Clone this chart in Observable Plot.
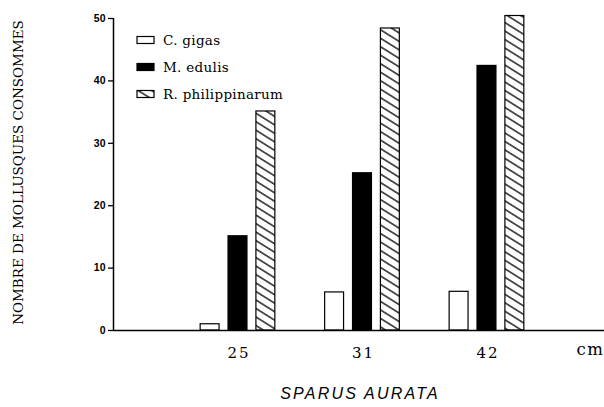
<!DOCTYPE html>
<html>
<head>
<meta charset="utf-8">
<script src="https://cdn.jsdelivr.net/npm/d3@7"></script>
<script src="https://cdn.jsdelivr.net/npm/@observablehq/plot@0.6"></script>
<style>
  body { margin: 0; background: #fff; }
  svg { display: block; }
</style>
</head>
<body>
<div id="chart"></div>
<script>
const sizes = ["25", "31", "42"];
const species = ["C. gigas", "M. edulis", "R. philippinarum"];
const gigas = [1, 6.1, 6.2];
const edulis = [15.1, 25.2, 42.4];
const philippinarum = [35.1, 48.4, 50.4];
const yTicks = [0, 10, 20, 30, 40, 50];
const fills = ["white", "black", "url(#hatch)"];
const yLabel = "NOMBRE DE MOLLUSQUES CONSOMMES";
const xTitle = "SPARUS AURATA";
const unit = "cm";

const series = [gigas, edulis, philippinarum];
const rows = [];
sizes.forEach((s, i) => {
  species.forEach((sp, k) => {
    rows.push({size: s, group: i + 1, k, species: sp, value: series[k][i], fill: fills[k]});
  });
});

const pitch = 0.224, bw = 0.152;

const chart = Plot.plot({
  width: 604,
  height: 407,
  marginLeft: 113,
  marginRight: 0,
  marginTop: 18,
  marginBottom: 77,
  x: {domain: [0, 3.944], axis: null},
  y: {domain: [0, 50], axis: null},
  color: {type: "identity"},
  style: {background: "white", color: "black", overflow: "visible"},
  marks: [
    Plot.rectY(rows, {
      x1: d => d.group + (d.k - 1) * pitch - bw / 2,
      x2: d => d.group + (d.k - 1) * pitch + bw / 2,
      y: "value",
      fill: "fill",
      stroke: "black",
      strokeWidth: 1.2
    }),
    Plot.ruleY([0], {stroke: "black", strokeWidth: 1.5}),
    Plot.ruleX([0], {y1: 0, y2: 50, stroke: "black", strokeWidth: 1.5}),
    Plot.axisY({
      ticks: yTicks, tickSize: 5, tickPadding: 3, label: null,
      fontSize: 10.5, fontWeight: "bold", fontFamily: "Liberation Sans", strokeWidth: 1.3
    }),
    Plot.axisX({
      ticks: [1, 2, 3], tickFormat: i => sizes[i - 1], tickSize: 0, tickPadding: 17,
      label: null, fontSize: 15, fontFamily: "DejaVu Serif", dx: 1
    }),
    Plot.text([unit], {
      frameAnchor: "bottom-right", textAnchor: "end", dx: 0, dy: 24,
      fontSize: 16.5, fontFamily: "DejaVu Serif"
    }),
    Plot.text([xTitle], {
      frameAnchor: "bottom", dy: 68, fontSize: 16, fontStyle: "italic",
      fontFamily: "Liberation Sans", dx: 1
    }),
    Plot.text([yLabel], {
      frameAnchor: "left", textAnchor: "middle", dx: -95, dy: -2, rotate: -90, fontSize: 13.5,
      fontFamily: "DejaVu Serif"
    })
  ]
});

const svg = d3.select(chart);
const spacing = {"SPARUS AURATA": 2.2, "cm": 1.5, "25": 2, "31": 2, "42": 2};
svg.selectAll("text").each(function () {
  const t = this.textContent;
  if (t in spacing) d3.select(this).attr("letter-spacing", spacing[t]);
});

const defs = svg.insert("defs", ":first-child");
const pat = defs.append("pattern")
  .attr("id", "hatch")
  .attr("patternUnits", "userSpaceOnUse")
  .attr("width", 8).attr("height", 7.2)
  .attr("patternTransform", "rotate(32)");
pat.append("rect").attr("width", 8).attr("height", 7.2).attr("fill", "white");
pat.append("path").attr("d", "M-1,3.6H9").attr("stroke", "black").attr("stroke-width", 1.3);

const legend = svg.append("g")
  .attr("font-family", "DejaVu Serif").attr("font-size", 13.5).attr("text-anchor", "start")
  .attr("letter-spacing", 0.3);
species.forEach((sp, k) => {
  const cy = 40 + k * 27;
  legend.append("rect")
    .attr("x", 137).attr("y", cy - 3.5).attr("width", 17).attr("height", 7)
    .attr("fill", fills[k]).attr("stroke", "black").attr("stroke-width", 1.2);
  legend.append("text")
    .attr("x", 163).attr("y", cy).attr("dy", "0.35em").text(sp);
});

document.getElementById("chart").appendChild(chart);
</script>
</body>
</html>
